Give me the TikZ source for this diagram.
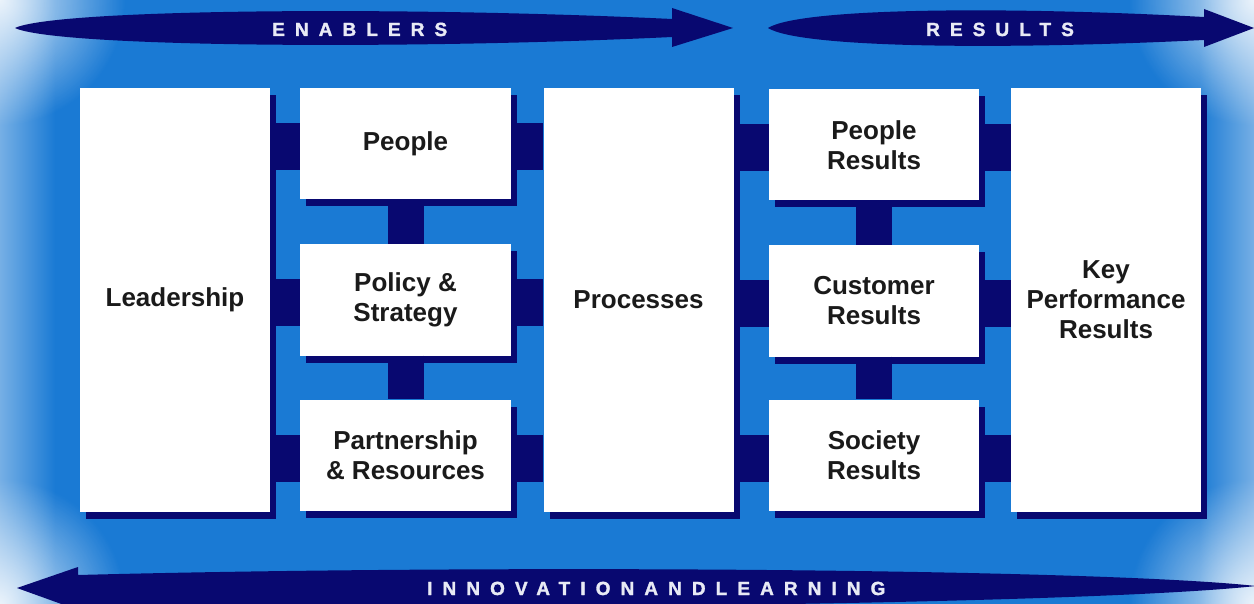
\documentclass[tikz,border=0pt]{standalone}
\usepackage{fontspec}
\setmainfont{Liberation Sans}
\newfontfamily\bannerfont[LetterSpace=53,FakeBold=1.6]{Liberation Sans Bold}
\usetikzlibrary{shadows}
\usetikzlibrary{fadings}

\definecolor{bgblue}{RGB}{26,122,212}
\definecolor{navy}{RGB}{8,8,112}
\definecolor{boxtext}{RGB}{26,26,26}
\definecolor{bannertext}{RGB}{232,234,245}

\tikzfading[name=glow fade, inner color=transparent!0, outer color=transparent!100]

\begin{document}
\begin{tikzpicture}
     [x=1pt,y=-1pt,
      % Styles
        box/.style={fill=white,text=boxtext,font=\fontsize{26}{30}\selectfont\bfseries,
                    align=center,inner sep=0pt,
                    drop shadow={shadow xshift=6pt,shadow yshift=-7pt,fill=navy,opacity=1}},
        tall box/.style={box,minimum width=190pt,minimum height=423pt},
        small box/.style={box,minimum width=211pt,minimum height=111pt},
        banner/.style={fill=navy},
        banner text/.style={text=bannertext,font=\fontsize{19}{19}\selectfont\bannerfont,
                    anchor=base west,inner sep=0pt},
        hbar/.style={navy,line width=47pt},
        vbar/.style={navy,line width=36pt}]
    \useasboundingbox (0,0) rectangle (1254,604);
    \clip (0,0) rectangle (1254,604);
    % background
    \fill[bgblue] (0,0) rectangle (1254,604);
    \shade[left color=bgblue!60!white,right color=bgblue] (0,0) rectangle (55,604);
    \shade[left color=bgblue,right color=bgblue!60!white] (1199,0) rectangle (1254,604);
    \foreach \cx/\cy in {0/0,0/604,1254/0,1254/604}
      \fill[white,fill opacity=.85,path fading=glow fade] (\cx,\cy) circle (125pt);

    % banners
    \fill[banner] (15,28) .. controls (55,9) and (400,6) .. (672,19) -- (672,8) -- (733,28)
      -- (672,47) -- (672,37) .. controls (400,50) and (55,47) .. (15,28) -- cycle;
    \fill[banner] (768,28) .. controls (800,8) and (1000,6) .. (1204,17) -- (1204,9) -- (1254,28)
      -- (1204,47) -- (1204,40) .. controls (1000,50) and (800,48) .. (768,28) -- cycle;
    \fill[banner] (17,588) -- (78,567) -- (78,575) .. controls (500,564) and (1100,569) .. (1256,586)
      .. controls (1100,603) and (500,612) .. (78,604) -- (78,610) -- cycle;
    \node[banner text] (enablers) at (272,36) {ENABLERS};
    \node[banner text] (results) at (926,36) {RESULTS};
    \node[banner text] (innovation) at (427,595) {INNOVATIONANDLEARNING};

    % enablers
    \node[tall box] (leader) at (175,300) {Leadership};
    \node[small box] (people) at (405.5,144) {People};
    \node[small box] (policy) at (405.5,300) {Policy \&\\Strategy};
    \node[small box] (partner) at (405.5,455) {Partnership\\\& Resources};
    \node[tall box] (process) at (638.5,300) {Processes};
    % results
    \node[small box,minimum width=210pt] (peopleres) at (874,145) {People\\Results};
    \node[small box,minimum width=210pt] (customerres) at (874,301) {Customer\\Results};
    \node[small box,minimum width=210pt] (societyres) at (874,455) {Society\\Results};
    \node[tall box] (keyres) at (1106,300) {Key\\Performance\\Results};

    % links
    \foreach \boxname/\lbox/\rbox in {people/leader/process,policy/leader/process,partner/leader/process,
        peopleres/process/keyres,customerres/process/keyres,societyres/process/keyres}
    {
      \draw[hbar] ([yshift=-3pt]\boxname.west) -- ([yshift=-3pt]\boxname.west -| \lbox.east);
      \draw[hbar] ([yshift=-3pt]\boxname.east) -- ([yshift=-3pt]\boxname.east -| \rbox.west);
    }
    \foreach \upper/\lower in {people/policy,policy/partner,peopleres/customerres,customerres/societyres}
      \draw[vbar] (\upper.south) -- (\lower.north);
  \end{tikzpicture}
\end{document}
